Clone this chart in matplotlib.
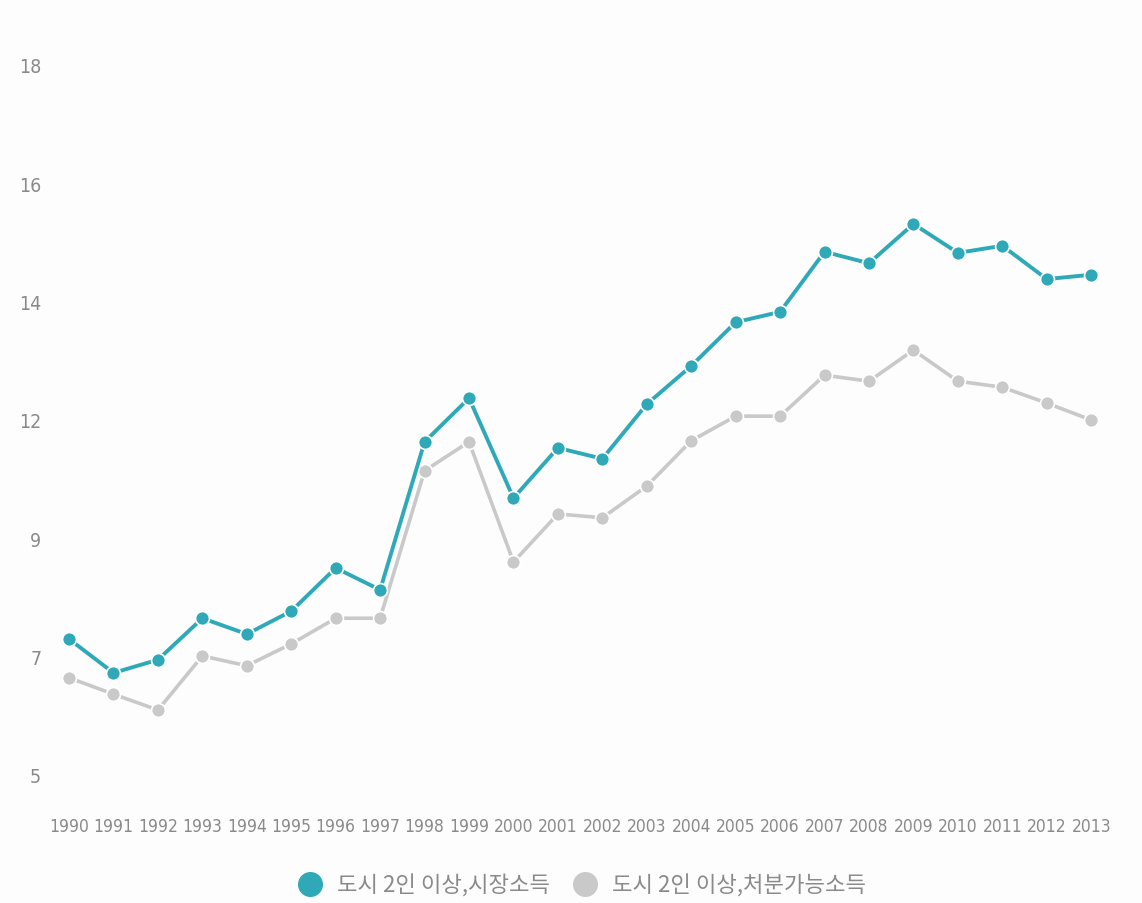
import matplotlib
matplotlib.use("Agg")
import matplotlib.pyplot as plt
from matplotlib.lines import Line2D

years = [str(y) for y in range(1990, 2014)]
market = [7.49, 6.87, 7.11, 7.87, 7.58, 8.00, 8.79, 8.39, 11.10, 11.90, 10.07, 10.99,
          10.79, 11.79, 12.49, 13.29, 13.48, 14.58, 14.37, 15.09, 14.56, 14.69, 14.08, 14.16]
disposable = [6.78, 6.48, 6.19, 7.18, 7.00, 7.40, 7.87, 7.87, 10.57, 11.10, 8.90, 9.78,
              9.71, 10.29, 11.12, 11.57, 11.57, 12.32, 12.21, 12.78, 12.21, 12.10, 11.81, 11.50]
series_names = ["도시 2인 이상,시장소득", "도시 2인 이상,처분가능소득"]
ytick_vals = [5 + i * 13 / 6 for i in range(7)]
ytick_labels = ["5", "7", "9", "12", "14", "16", "18"]

teal = "#2fa9b8"
gray = "#c9c9c9"
label_color = "#8a8a8a"

fig = plt.figure(figsize=(11.42, 9.04), dpi=100)
fig.patch.set_facecolor("#fdfdfd")
ax = fig.add_axes([0.041, 0.1416, 0.934, 0.7854])
ax.set_facecolor("#fdfdfd")

x = list(range(len(years)))
ax.plot(x, disposable, color=gray, lw=2.6, marker="o", ms=10, mfc=gray, mec="white", mew=1.2, zorder=2)
ax.plot(x, market, color=teal, lw=2.8, marker="o", ms=10, mfc=teal, mec="white", mew=1.2, zorder=3)

ax.set_xlim(-0.5, len(years) - 0.5)
ax.set_ylim(5, 18)
ax.set_xticks(x)
ax.set_xticklabels(years, family="DejaVu Sans", stretch="condensed", fontsize=12.5, color=label_color)
ax.set_yticks(ytick_vals)
ax.set_yticklabels(ytick_labels, family="DejaVu Sans", stretch="condensed", fontsize=14, color=label_color)
ax.tick_params(length=0)
ax.tick_params(axis="x", pad=30)
ax.tick_params(axis="y", pad=4)
for s in ax.spines.values():
    s.set_visible(False)

handles = [Line2D([], [], ls="none", marker="o", ms=17, mfc=teal, mec=teal),
           Line2D([], [], ls="none", marker="o", ms=17, mfc=gray, mec=gray)]
leg = fig.legend(handles, series_names, loc="center", bbox_to_anchor=(0.505, 0.02),
                 ncol=2, frameon=False, handletextpad=0.2, columnspacing=0.6,
                 prop={"family": ["Noto Sans CJK KR", "DejaVu Sans"], "size": 16})
for t in leg.get_texts():
    t.set_color(label_color)

fig.savefig("out.png", dpi=100, facecolor=fig.get_facecolor())
